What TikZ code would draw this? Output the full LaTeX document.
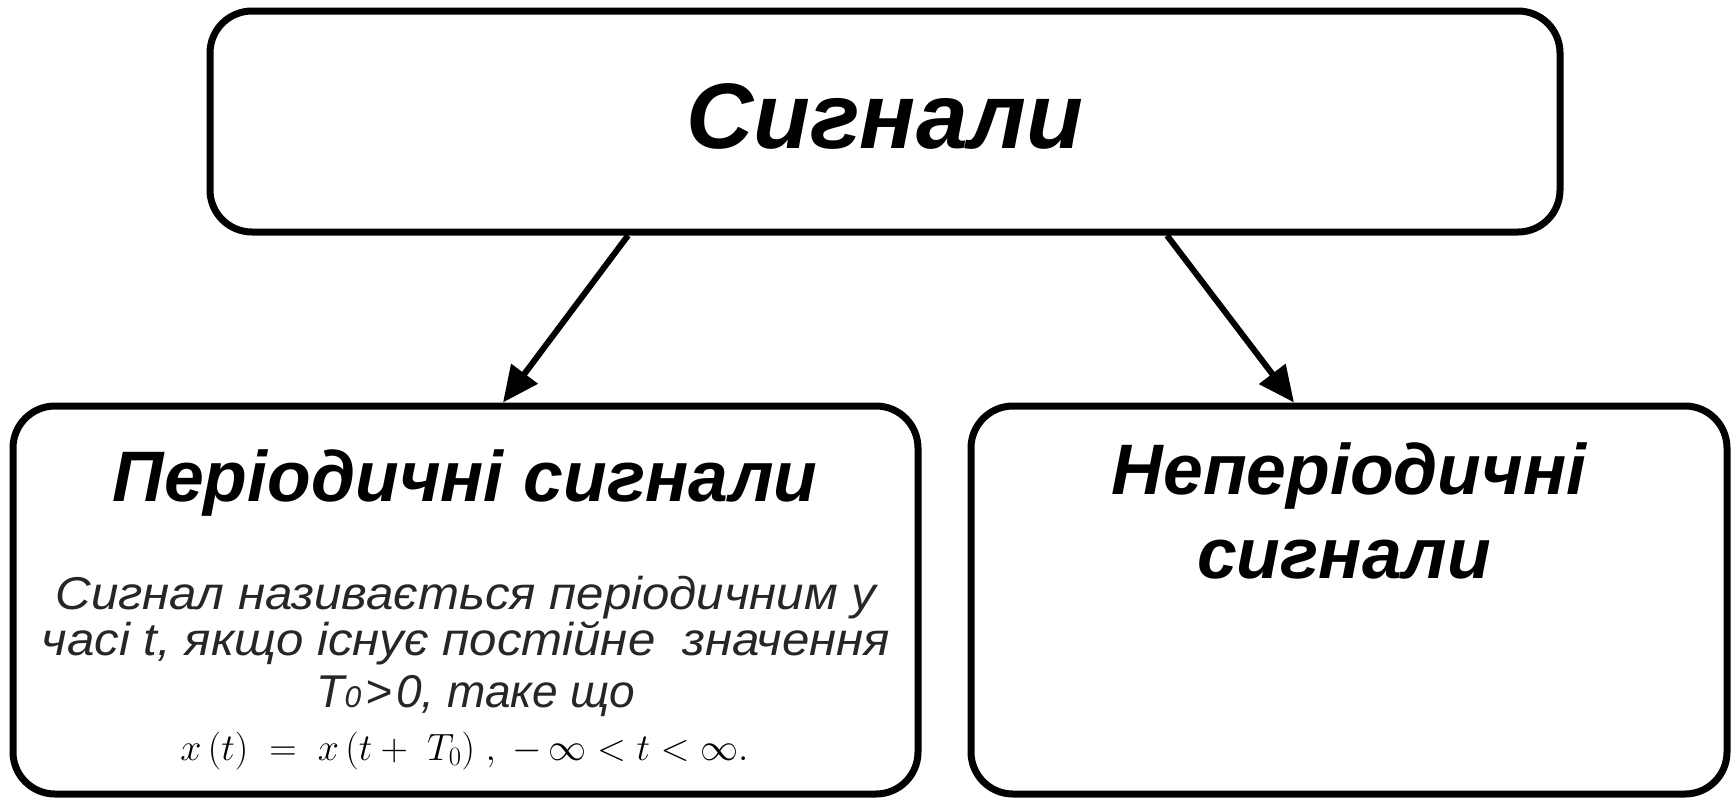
\RequirePackage{fix-cm}
\documentclass[tikz,border=0pt]{standalone}
\usepackage{fontspec}
\setmainfont{Liberation Sans}
\newfontfamily\bodyfont[FakeStretch=1.07]{Liberation Sans}
\usetikzlibrary{arrows.meta,calc}
\tikzset{
  box/.style={draw=black, line width=7pt, rounded corners=42pt, inner sep=0pt, fill=white},
  head/.style={font=\fontsize{71.5}{76}\selectfont\bfseries\itshape, inner sep=0pt, anchor=base},
  toptext/.style={font=\fontsize{93}{98}\selectfont\bfseries\itshape, inner sep=0pt, anchor=base},
  body/.style={font=\bodyfont\itshape\fontsize{46}{50}\selectfont, text=black!85, inner sep=0pt, anchor=base},
  bodyplain/.style={font=\itshape\fontsize{46}{50}\selectfont, text=black!85, inner sep=0pt, anchor=base},
  mathline/.style={font=\fontsize{38}{42}\selectfont, inner sep=0pt, anchor=base},
  conn/.style={line width=6pt, -{Triangle[length=36pt,width=32pt]}}
}
\begin{document}
\begin{tikzpicture}[x=1pt,y=-1pt]
\useasboundingbox[fill=white] (0,0) rectangle (1734,798);
\node[box, minimum width=1350pt, minimum height=221pt] (top) at (885,121.5) {};
\node[box, minimum width=905pt, minimum height=388pt] (left) at (465.5,600) {};
\node[box, minimum width=756pt, minimum height=388pt] (right) at (1349,600) {};
\node[toptext] (ttop) at (885,148) {Сигнали};
\node[head] (tleft) at (465,501) {Періодичні сигнали};
\node[head] (tright1) at (1349,494) {Неперіодичні};
\node[head] (tright2) at (1344,578) {сигнали};
\node[body] (b1) at (466,609) {Сигнал називається періодичним у};
\node[body] (b2) at (466,655) {часі t, якщо існує постійне\ \ значення};
\node[bodyplain] (b3) at (476,707) {T{\fontsize{30}{30}\selectfont 0}\hspace{4pt}>\hspace{4pt}0, таке що};
\node[mathline] (b4) at (464.5,760) {$x\,(t)\ =\ x\,(t +\ T_0)\ ,\ -\,\infty < t < \infty.$};
\draw[conn] ($(top.south)+(-257,0)$) -- ($(left.north)+(37.5,0)$);
\draw[conn] ($(top.south)+(282,0)$) -- ($(right.north)+(-55,0)$);
\end{tikzpicture}
\end{document}
